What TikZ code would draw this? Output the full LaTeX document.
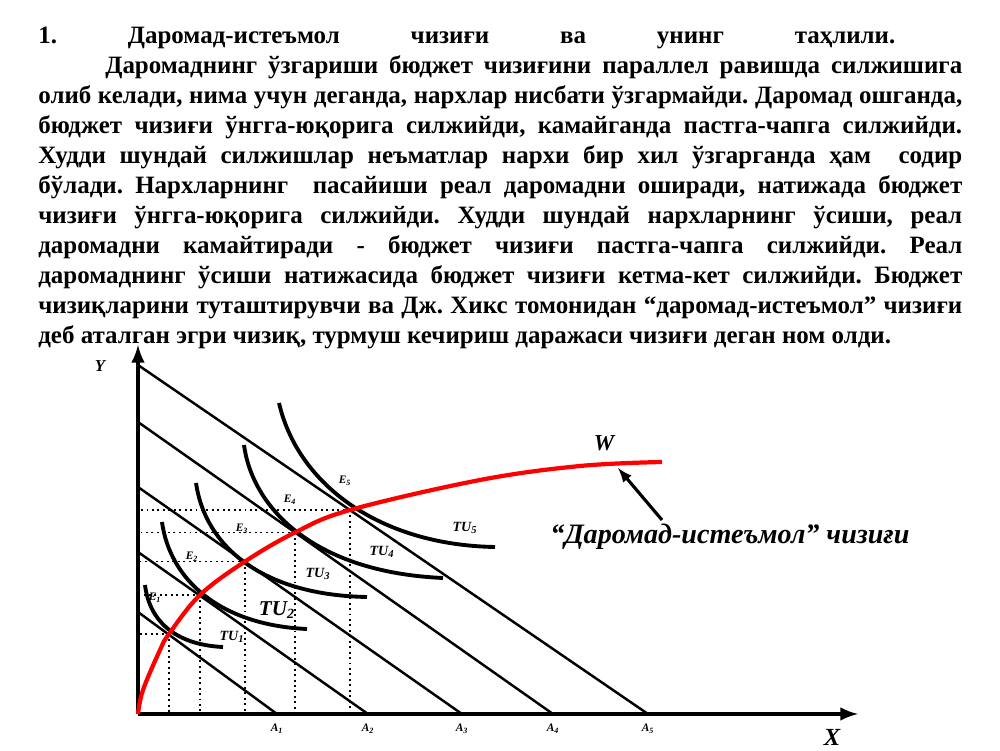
\documentclass[tikz,border=0pt]{standalone}
\usepackage{fontspec}
\setmainfont{Liberation Serif}
\newcommand{\lbl}[2]{#1\textsubscript{#2}}

\begin{document}
\begin{tikzpicture}[>=latex,
    budget/.style={black, line width=1.4pt},
    tu/.style={black, line width=2.2pt},
    guide/.style={black, dotted, line width=1.1pt},
    tiny/.style={font=\bfseries\itshape\fontsize{6.5}{7}\selectfont, inner sep=0pt},
    small/.style={font=\bfseries\itshape\fontsize{8}{9}\selectfont, inner sep=0pt}]
    \useasboundingbox (-2.76,-0.72) rectangle (17.24,14.28);
    %\draw[very thin,color=gray] (-2,-0.5) grid (17,14);

    % text above the picture
    \node[anchor=north west, text width=18.48cm, inner sep=0pt, align=justify,
          font=\frenchspacing\bfseries\fontsize{14.2}{17.07}\selectfont] (txt) at (-2.0,13.75)
    {\makebox[17.14cm][l]{1.\hfill Даромад-истеъмол\hfill чизиғи\hfill ва\hfill унинг\hfill таҳлили.}\\
    \hspace*{1.34cm}Даромаднинг ўзгариши бюджет чизиғини параллел равишда силжишига\linebreak
    олиб келади, нима учун деганда, нархлар нисбати ўзгармайди. Даромад ошганда,\linebreak
    бюджет чизиғи ўнгга-юқорига силжийди, камайганда пастга-чапга силжийди.\linebreak
    Худди шундай силжишлар неъматлар нархи бир хил ўзгарганда ҳам \ содир\linebreak
    бўлади. Нархларнинг \ пасайиши реал даромадни оширади, натижада бюджет\linebreak
    чизиғи ўнгга-юқорига силжийди. Худди шундай нархларнинг ўсиши, реал\linebreak
    даромадни камайтиради - бюджет чизиғи пастга-чапга силжийди. Реал\linebreak
    даромаднинг ўсиши натижасида бюджет чизиғи кетма-кет силжийди. Бюджет\linebreak
    чизиқларини туташтирувчи ва Дж. Хикс томонидан “даромад-истеъмол” чизиғи\linebreak
    деб аталган эгри чизиқ, турмуш кечириш даражаси чизиғи деган ном олди.};

    % axes
    \draw[black, line width=2.4pt, ->] (0,0) -- (0,7.38);
    \draw[black, line width=2.4pt, ->] (0,0) -- (14.4,0);
    \node[font=\bfseries\itshape\fontsize{9.5}{10}\selectfont] (ylab) at (-0.76,6.96) {Y};
    \node[font=\bfseries\itshape\fontsize{14}{15}\selectfont] (xlab) at (13.88,-0.46) {X};

    % budget lines
    \coordinate (B1) at (0,2.04);  \coordinate (A1) at (2.78,0);
    \coordinate (B2) at (0,3.24);  \coordinate (A2) at (4.60,0);
    \coordinate (B3) at (0,4.54);  \coordinate (A3) at (6.48,0);
    \coordinate (B4) at (0,5.84);  \coordinate (A4) at (8.30,0);
    \coordinate (B5) at (0,6.98);  \coordinate (A5) at (10.20,0);
    \foreach \i in {1,...,5}
    {
        \draw[budget] (B\i) -- (A\i);
        \node[tiny, yshift=-0.30cm] (a\i) at (A\i) {\lbl{A}{\i}};
    }

    % equilibrium points
    \coordinate (E1) at (0.62,1.60);
    \coordinate (E2) at (1.24,2.38);
    \coordinate (E3) at (2.14,3.05);
    \coordinate (E4) at (3.14,3.63);
    \coordinate (E5) at (4.24,4.08);
    \foreach \i in {1,...,5}
    {
        \draw[guide] (E\i) -- (0,0 |- E\i);
        \draw[guide] (E\i) -- (E\i |- 0,0);
    }

    % indifference curves
    \draw[tu] (0.14,2.58) .. controls (0.24,1.78) and (0.84,1.38) .. (1.70,1.34);
    \draw[tu] (0.48,3.84) .. controls (0.64,2.68) and (1.64,1.78) .. (3.38,1.70);
    \draw[tu] (1.16,4.62) .. controls (1.34,3.38) and (2.44,2.38) .. (4.58,2.34);
    \draw[tu] (2.12,5.38) .. controls (2.28,4.18) and (3.44,2.84) .. (6.10,2.72);
    \draw[tu] (2.82,6.22) .. controls (3.20,4.58) and (4.84,3.38) .. (7.14,3.34);

    % income-consumption curve
    \draw[red, line width=2.4pt] plot[smooth, tension=0.6] coordinates
        {(0,0) (0.10,0.48) (0.44,1.28) (E1) (E2) (E3) (E4) (E5)
         (6.84,4.68) (8.84,4.96) (10.48,5.04)};

    % labels
    \node[tiny] (e1) at (0.34,2.32) {\lbl{E}{1}};
    \node[tiny] (e2) at (1.08,3.14) {\lbl{E}{2}};
    \node[tiny] (e3) at (2.08,3.70) {\lbl{E}{3}};
    \node[tiny] (e4) at (3.04,4.28) {\lbl{E}{4}};
    \node[tiny] (e5) at (4.14,4.66) {\lbl{E}{5}};
    \node[small] (tu1) at (1.88,1.54) {\lbl{TU}{1}};
    \node[font=\bfseries\itshape\fontsize{12}{13}\selectfont, inner sep=0pt] (tu2) at (2.78,2.08) {\lbl{TU}{2}};
    \node[small] (tu3) at (3.60,2.80) {\lbl{TU}{3}};
    \node[small] (tu4) at (4.88,3.24) {\lbl{TU}{4}};
    \node[small] (tu5) at (6.54,3.72) {\lbl{TU}{5}};
    \node[font=\bfseries\itshape\fontsize{13}{14}\selectfont] (w) at (9.32,5.42) {W};

    \node[font=\bfseries\itshape\fontsize{16}{17}\selectfont] (cap) at (11.84,3.54)
        {“Даромад-истеъмол” чизиғи};
    \coordinate (wpt) at (9.60,4.92);
    \draw[black, line width=1.8pt, ->] (10.48,3.88) -- (wpt);
\end{tikzpicture}
\end{document}
